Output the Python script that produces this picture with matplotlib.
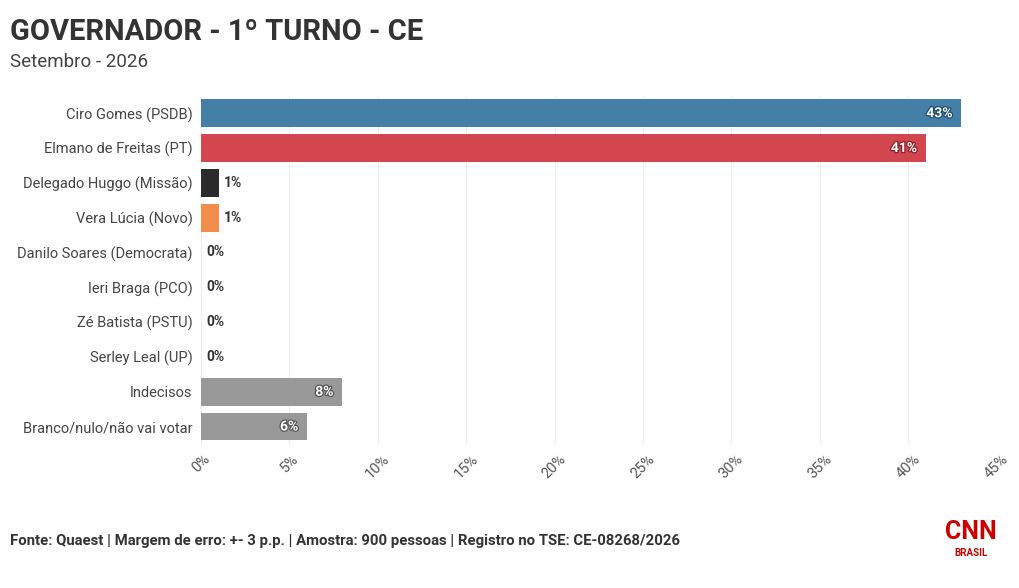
import matplotlib.pyplot as plt
import matplotlib.patheffects as pe

candidates = ["Ciro Gomes (PSDB)", "Elmano de Freitas (PT)", "Delegado Huggo (Missão)",
              "Vera Lúcia (Novo)", "Danilo Soares (Democrata)", "Ieri Braga (PCO)",
              "Zé Batista (PSTU)", "Serley Leal (UP)", "Indecisos", "Branco/nulo/não vai votar"]
values = [43, 41, 1, 1, 0, 0, 0, 0, 8, 6]
colors = ["#447fa8", "#d3464f", "#2b2b2b", "#f28e4c", "#999999", "#999999",
          "#999999", "#999999", "#999999", "#999999"]
ticks = list(range(0, 50, 5))

plt.rcParams['font.family'] = ['Roboto', 'DejaVu Sans']
fig = plt.figure(figsize=(10.2, 5.88), dpi=100)
ax = fig.add_axes([0.197, 0.245, 0.78, 0.592])

y = list(range(len(candidates)))
ax.barh(y, values, color=colors, height=0.8, zorder=2)
ax.set_ylim(len(candidates) - 0.5, -0.5)
ax.set_xlim(0, 45)
ax.set_yticks(y)
ax.set_yticklabels(candidates, fontsize=10.5, color="#444444")
ax.set_xticks(ticks)
ax.set_xticklabels([f"{t}%" for t in ticks], rotation=45, fontsize=10.5, color="#555555")
ax.tick_params(length=0, pad=6)
ax.grid(axis="x", color="#eeeeee", linewidth=0.8, zorder=0)
for s in ax.spines.values():
    s.set_visible(False)

outline = {0: "#1f4d6b", 1: "#8a1f27"}
for yi, v in zip(y, values):
    if v >= 5:
        ax.text(v - 0.5, yi, f"{v}%", ha="right", va="center", color="white",
                fontsize=10, fontweight="bold",
                path_effects=[pe.withStroke(linewidth=1.8, foreground=outline.get(yi, "#555555"))])
    else:
        ax.text(v + 0.3, yi, f"{v}%", ha="left", va="center", color="#333333",
                fontsize=10, fontweight="bold")

fig.text(0.01, 0.945, "GOVERNADOR - 1º TURNO - CE", fontsize=21, fontweight="bold",
         color="#333333", va="center")
fig.text(0.01, 0.895, "Setembro - 2026", fontsize=13.5, color="#444444", va="center")
fig.text(0.01, 0.08, "Fonte: Quaest | Margem de erro: +- 3 p.p. | Amostra: 900 pessoas | Registro no TSE: CE-08268/2026",
         fontsize=10.7, fontweight="bold", color="#333333", va="center")
fig.text(0.952, 0.095, "CNN", fontsize=18, fontweight="bold", color="#cc0000",
         ha="center", va="center")
fig.text(0.952, 0.06, "BRASIL", fontsize=7, fontweight="bold", color="#cc0000",
         ha="center", va="center")

fig.savefig("out.png", dpi=100)
